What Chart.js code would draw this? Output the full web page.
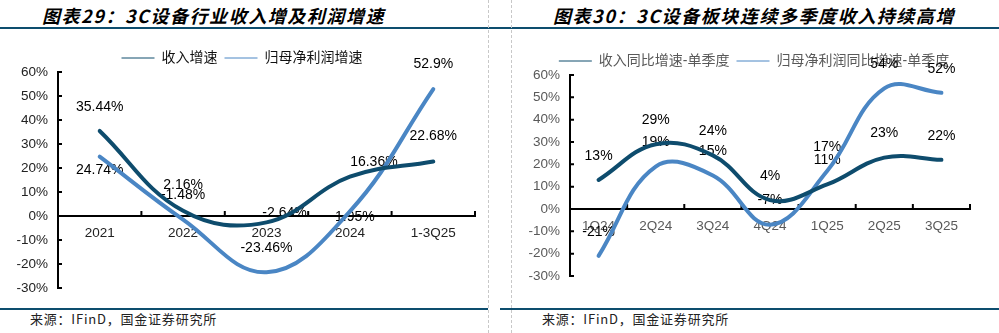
<!DOCTYPE html>
<html>
<head>
<meta charset="utf-8">
<script src="https://cdn.jsdelivr.net/npm/chart.js@4.4.1/dist/chart.umd.min.js"></script>
<style>
body{margin:0;width:999px;height:333px;background:#fff;position:relative;overflow:hidden;font-family:"Liberation Sans","Noto Sans CJK SC",sans-serif}
.title{position:absolute;top:2px;font:italic bold 18px "Noto Sans CJK SC";color:#000;white-space:nowrap}
.hr{position:absolute;height:2px;background:#0d4d6e}
.vd{position:absolute;top:0;height:333px;border-left:1px dashed #c8c8c8}
.src{position:absolute;top:309px;font:13px "Noto Sans CJK SC";color:#222;white-space:nowrap}
.box{position:absolute}
</style>
</head>
<body>
<div class="title" style="left:42px" data-w="343">图表29：3C设备行业收入增及利润增速</div>
<div class="title" style="left:553px" data-w="402">图表30：3C设备板块连续多季度收入持续高增</div>
<div class="hr" style="left:0;top:27px;width:999px"></div>
<div class="hr" style="left:0;top:308px;width:488px"></div>
<div class="hr" style="left:500px;top:308px;width:499px"></div>
<div class="vd" style="left:488px"></div>
<div class="vd" style="left:511px"></div>
<div class="src" style="left:30px" data-w="187">来源：IFinD，国金证券研究所</div>
<div class="src" style="left:542px" data-w="187">来源：IFinD，国金证券研究所</div>
<div class="box" style="left:0;top:36px;width:488px;height:277px"><canvas id="c1"></canvas></div>
<div class="box" style="left:500px;top:36px;width:499px;height:268px"><canvas id="c2"></canvas></div>
<script>
// 图表29
const years = ['2021', '2022', '2023', '2024', '1-3Q25'];
const revenueGrowth = [35.44, 2.16, -2.64, 16.36, 22.68];
const profitGrowth = [24.74, -1.48, -23.46, 1.95, 52.9];

// 图表30
const quarters = ['1Q24', '2Q24', '3Q24', '4Q24', '1Q25', '2Q25', '3Q25'];
const revenueQoq = [13, 29, 24, 4, 11, 23, 22];
const profitQoq = [-21, 19, 15, -7, 17, 54, 52];

const yTicks = [-30, -20, -10, 0, 10, 20, 30, 40, 50, 60];

const DARK = '#0e4c6d';
const LIGHT = '#4a86c4';
const FONT = '"Liberation Sans", "Noto Sans CJK SC", sans-serif';

// stretch headings to the width they have in the report
document.querySelectorAll('[data-w]').forEach(el => {
    const n = el.textContent.length;
    const w = el.getBoundingClientRect().width;
    el.style.letterSpacing = ((+el.dataset.w - w) / n) + 'px';
});

// labels drawn under the lines, inner tick marks on the axes
const decorPlugin = {
    id: 'decor',
    beforeDatasetsDraw(chart, args, opts) {
        const ctx = chart.ctx;
        const x = chart.scales.x;
        const y = chart.scales.y;
        const ca = chart.chartArea;
        ctx.save();
        ctx.strokeStyle = '#000';
        ctx.lineWidth = 2;
        ctx.beginPath();
        yTicks.forEach(v => {
            const py = y.getPixelForValue(v);
            ctx.moveTo(ca.left, py);
            ctx.lineTo(ca.left + 4, py);
        });
        const zero = y.getPixelForValue(0);
        for (let i = 1; i <= x.getLabels().length; i++) {
            const px = x.getPixelForValue(i - 0.5);
            ctx.moveTo(px, zero);
            ctx.lineTo(px, zero - 5);
        }
        ctx.stroke();

        ctx.font = '14px ' + FONT;
        ctx.fillStyle = opts.color;
        ctx.textAlign = 'center';
        ctx.textBaseline = 'middle';
        chart.data.datasets.forEach((ds, di) => {
            const meta = chart.getDatasetMeta(di);
            meta.data.forEach((pt, i) => {
                const off = (opts.offsets && opts.offsets[di] && opts.offsets[di][i]) || [0, -24];
                ctx.fillText(ds.data[i] + '%', pt.x + off[0], pt.y + off[1]);
            });
        });
        ctx.restore();
    }
};

function makeChart(id, labels, a, b, names, cfg) {
    return new Chart(document.getElementById(id), {
        type: 'line',
        data: {
            labels: labels,
            datasets: [
                { label: names[0], data: a, borderColor: DARK, backgroundColor: DARK },
                { label: names[1], data: b, borderColor: LIGHT, backgroundColor: LIGHT }
            ]
        },
        options: {
            responsive: true,
            maintainAspectRatio: false,
            animation: false,
            layout: { padding: cfg.padding },
            elements: {
                line: { borderWidth: 4, tension: 0.4, borderCapStyle: 'round', borderJoinStyle: 'round', fill: false },
                point: { radius: 0 }
            },
            plugins: {
                legend: {
                    position: 'top',
                    maxHeight: 28,
                    labels: {
                        usePointStyle: true,
                        pointStyle: 'line',
                        pointStyleWidth: 33,
                        padding: 7,
                        color: cfg.legendColor,
                        font: { size: 14, family: FONT }
                    }
                },
                tooltip: { enabled: false },
                decor: { color: '#000', offsets: cfg.offsets }
            },
            scales: {
                x: {
                    position: { y: 0 },
                    offset: true,
                    grid: { display: false, drawTicks: false },
                    border: { color: '#000', width: 2 },
                    ticks: { color: cfg.tickColor, padding: 9, font: { size: 13.5, family: FONT }, maxRotation: 0 }
                },
                y: {
                    min: -30,
                    max: 60,
                    afterFit: s => { s.width = cfg.yWidth; },
                    afterBuildTicks: s => { s.ticks = yTicks.map(v => ({ value: v })); },
                    grid: { display: false, drawTicks: false },
                    border: { color: '#000', width: 2 },
                    ticks: { color: cfg.tickColor, padding: 10, font: { size: 13.5, family: FONT }, callback: v => v + '%' }
                },
                // empty strip on the right so the legend sits where it does in the report
                pad: {
                    type: 'linear',
                    position: 'right',
                    afterFit: s => { s.width = cfg.rightGap; },
                    grid: { display: false, drawTicks: false },
                    border: { display: false },
                    ticks: { display: false }
                }
            }
        },
        plugins: [decorPlugin]
    });
}

makeChart('c1', years, revenueGrowth, profitGrowth, ['收入增速', '归母净利润增速'], {
    padding: { left: 9, right: 13, top: 8, bottom: 25 },
    yWidth: 49,
    rightGap: 0,
    tickColor: '#222',
    legendColor: '#111',
    offsets: [
        [[0, -24], [0, -26], [18, -9], [24, -15], [0, -25]],
        [[0, 14], [0, -24], [0, -24], [5, 6], [0, -25]]
    ]
});

makeChart('c2', quarters, revenueQoq, profitQoq, ['收入同比增速-单季度', '归母净利润同比增速-单季度'], {
    padding: { left: 20, right: 11, top: 11, bottom: 28 },
    yWidth: 50,
    rightGap: 18,
    tickColor: '#595959',
    legendColor: '#595959',
    offsets: null
});
</script>
</body>
</html>
